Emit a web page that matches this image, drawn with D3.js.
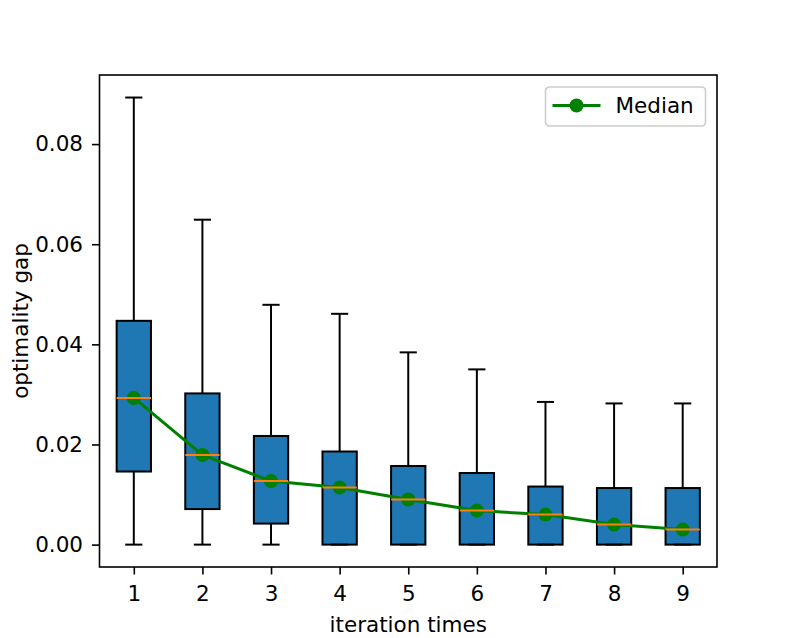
<!DOCTYPE html>
<html>
<head>
<meta charset="utf-8">
<script src="https://cdn.jsdelivr.net/npm/d3@7"></script>
<style>
  body { margin: 0; background: #fff; }
  text { font-family: "DejaVu Sans", sans-serif; }
</style>
</head>
<body>
<svg id="chart" width="797" height="638"></svg>
<script>
// values
var iterations = [1, 2, 3, 4, 5, 6, 7, 8, 9];
var whiskerLow = [0, 0, 0, 0, 0, 0, 0, 0, 0];
var q1 = [0.0146, 0.0071, 0.0042, 0, 0, 0, 0, 0, 0];
var medians = [0.0293, 0.0179, 0.0127, 0.0114, 0.0090, 0.0068, 0.0060, 0.0040, 0.0030];
var q3 = [0.0447, 0.0302, 0.0217, 0.0186, 0.0157, 0.0143, 0.0116, 0.0113, 0.0113];
var whiskerHigh = [0.0893, 0.0649, 0.0479, 0.0461, 0.0384, 0.0350, 0.0285, 0.0282, 0.0282];
var yTicks = [0, 0.02, 0.04, 0.06, 0.08];

var fontSize = "21.5px";
var margin = {left: 99.5, right: 80, top: 75, bottom: 71};
var width = 797 - margin.left - margin.right,
    height = 638 - margin.top - margin.bottom;

var svg = d3.select("#chart"),
    g = svg.append("g").attr("transform", "translate(" + margin.left + "," + margin.top + ")");

var x = d3.scaleLinear().domain([0.5, 9.5]).range([0, width]);
var y = d3.scaleLinear().domain([-0.00447, 0.0938]).range([height, 0]);

var rows = iterations.map(function (d, i) {
    return {it: d, lo: whiskerLow[i], q1: q1[i], med: medians[i], q3: q3[i], hi: whiskerHigh[i]};
});

var boxW = x(1.25) - x(1), capW = x(1.125) - x(1);

/* box bodies first, like matplotlib patches */
g.selectAll("rect.box")
    .data(rows)
    .enter().append("rect")
    .attr("class", "box")
    .attr("x", function (d) { return x(d.it) - boxW; })
    .attr("width", 2 * boxW)
    .attr("y", function (d) { return y(d.q3); })
    .attr("height", function (d) { return y(d.q1) - y(d.q3); })
    .style("fill", "#1f77b4")
    .style("stroke", "black")
    .style("stroke-width", 2);

/* median line with markers */
var line = d3.line()
    .x(function (d) { return x(d.it); })
    .y(function (d) { return y(d.med); });

g.append("path")
    .datum(rows)
    .attr("d", line)
    .style("fill", "none")
    .style("stroke", "green")
    .style("stroke-width", 3);

g.selectAll("circle.med")
    .data(rows)
    .enter().append("circle")
    .attr("class", "med")
    .attr("cx", function (d) { return x(d.it); })
    .attr("cy", function (d) { return y(d.med); })
    .attr("r", 7)
    .style("fill", "green");

/* whiskers, caps and medians */
function vseg(a, b) {
    g.selectAll(null)
        .data(rows)
        .enter().append("line")
        .attr("x1", function (d) { return x(d.it); })
        .attr("x2", function (d) { return x(d.it); })
        .attr("y1", function (d) { return y(d[a]); })
        .attr("y2", function (d) { return y(d[b]); })
        .style("stroke", "black")
        .style("stroke-width", 2);
}
vseg("q3", "hi");
vseg("lo", "q1");

function hseg(key, half, color) {
    g.selectAll(null)
        .data(rows)
        .enter().append("line")
        .attr("x1", function (d) { return x(d.it) - half; })
        .attr("x2", function (d) { return x(d.it) + half; })
        .attr("y1", function (d) { return y(d[key]); })
        .attr("y2", function (d) { return y(d[key]); })
        .style("stroke", color)
        .style("stroke-width", 2);
}
hseg("hi", capW, "black");
hseg("lo", capW, "black");
hseg("med", boxW, "#ff7f0e");

/* axes */
var xAxis = g.append("g")
    .attr("transform", "translate(0," + height + ")")
    .call(d3.axisBottom(x).tickValues(iterations).tickFormat(d3.format("d")).tickSizeOuter(0).tickSize(7.5).tickPadding(11));
var yAxis = g.append("g")
    .call(d3.axisLeft(y).tickValues(yTicks).tickFormat(d3.format(".2f")).tickSizeOuter(0).tickSize(7.5).tickPadding(9));

[xAxis, yAxis].forEach(function (a) {
    a.select(".domain").remove();
    a.selectAll("line").style("stroke", "black").style("stroke-width", 1.6);
    a.selectAll("text").style("font-size", fontSize).style("fill", "black")
        .style("font-family", "DejaVu Sans, sans-serif");
});

g.append("rect")
    .attr("width", width)
    .attr("height", height)
    .style("fill", "none")
    .style("stroke", "black")
    .style("stroke-width", 1.6);

/* axis labels */
g.append("text")
    .attr("x", width / 2)
    .attr("y", height + 65)
    .attr("text-anchor", "middle")
    .style("font-size", fontSize)
    .text("iteration times");

g.append("text")
    .attr("transform", "translate(" + (-72) + "," + (height / 2) + ") rotate(-90)")
    .attr("text-anchor", "middle")
    .style("font-size", fontSize)
    .text("optimality gap");

/* legend */
var leg = g.append("g").attr("transform", "translate(" + (width - 171.5) + ",12)");
leg.append("rect")
    .attr("width", 160)
    .attr("height", 39)
    .attr("rx", 4)
    .style("fill", "white")
    .style("stroke", "#cccccc")
    .style("stroke-width", 1.6);
leg.append("line")
    .attr("x1", 7).attr("x2", 55)
    .attr("y1", 18.5).attr("y2", 18.5)
    .style("stroke", "green")
    .style("stroke-width", 3);
leg.append("circle")
    .attr("cx", 31).attr("cy", 18.5).attr("r", 7)
    .style("fill", "green");
leg.append("text")
    .attr("x", 70).attr("y", 26)
    .style("font-size", fontSize)
    .text("Median");
</script>
</body>
</html>
